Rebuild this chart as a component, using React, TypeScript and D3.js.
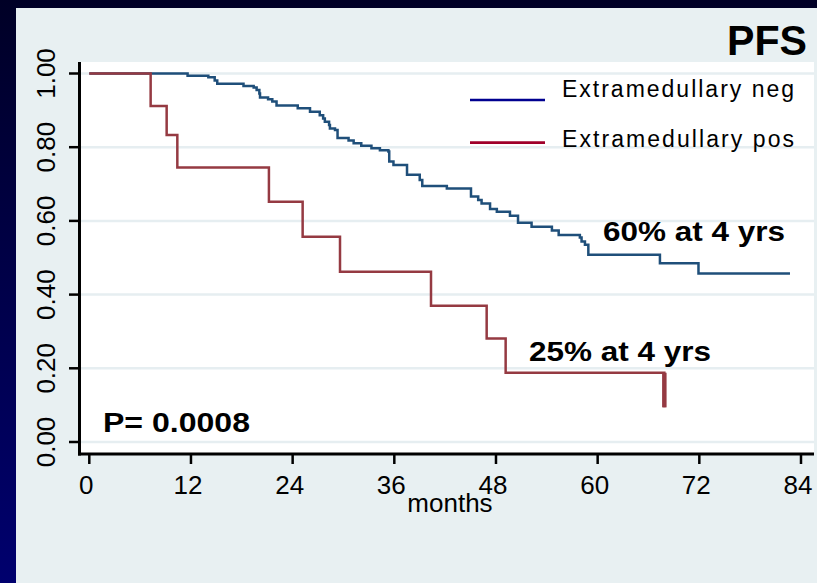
import React from "react";
import * as d3 from "d3";

// Kaplan-Meier steps (months, survival)
const negTimes = [0, 11.6, 14.05, 14.8, 15.1, 18.2, 19.4, 19.75, 20.07, 20.15, 21.1, 21.6, 22.1, 24.6, 26.05, 27.2, 27.6, 27.8, 28.3, 28.4, 29.0, 29.3, 30.6, 31.2, 32.1, 33.3, 34.3, 35.3, 35.4, 35.9, 37.5, 39.0, 39.3, 42.2, 45.05, 45.9, 46.3, 47.3, 48.1, 49.65, 50.6, 52.2, 54.6, 55.4, 57.9, 58.1, 58.5, 58.9, 67.35, 71.9, 82.7];
const negSurv = [1, 0.994, 0.99, 0.981, 0.972, 0.966, 0.962, 0.955, 0.946, 0.935, 0.93, 0.924, 0.913, 0.906, 0.896, 0.887, 0.878, 0.869, 0.86, 0.851, 0.847, 0.825, 0.818, 0.811, 0.804, 0.797, 0.792, 0.788, 0.761, 0.752, 0.725, 0.711, 0.695, 0.688, 0.666, 0.657, 0.647, 0.632, 0.625, 0.614, 0.595, 0.584, 0.574, 0.562, 0.555, 0.544, 0.535, 0.508, 0.485, 0.457, 0.457];

const posTimes = [0, 7.24, 9.13, 10.39, 21.2, 25.18, 29.59, 40.33, 46.9, 49.14, 67.87];
const posSurv = [1, 0.912, 0.833, 0.745, 0.652, 0.557, 0.462, 0.37, 0.281, 0.188, 0.094];

const xTicks = [0, 12, 24, 36, 48, 60, 72, 84];
const yTicks = [0, 0.2, 0.4, 0.6, 0.8, 1.0];

const legendLabels = ["Extramedullary neg", "Extramedullary pos"];

const W = 817;
const H = 583;
const font = "'Liberation Sans', Arial, sans-serif";

const App = () => {
  const x = d3.scaleLinear().domain([0, 84]).range([89.3, 801]);
  const y = d3.scaleLinear().domain([0, 1]).range([442, 73.5]);

  const line = d3
    .line<[number, number]>()
    .x((d) => x(d[0]))
    .y((d) => y(d[1]))
    .curve(d3.curveStepAfter);

  const negPts = negTimes.map((t, i) => [t, negSurv[i]] as [number, number]);
  const posPts = posTimes.map((t, i) => [t, posSurv[i]] as [number, number]);
  const last = posTimes.length - 1;

  return (
    <div style={{ position: "fixed", left: 0, top: 0 }}>
      <svg width={W} height={H} style={{ display: "block" }}>
        <defs>
          <linearGradient id="bg" x1="0" y1="0" x2="0" y2="1">
            <stop offset="0" stopColor="#000026" />
            <stop offset="1" stopColor="#00006e" />
          </linearGradient>
        </defs>
        <rect width={W} height={H} fill="url(#bg)" />
        <rect x={16} y={8} width={W - 16} height={H - 8} fill="#e8f0f2" />

        {/* plot area */}
        <rect x={81} y={62} width={733} height={391} fill="#ffffff" />
        {yTicks.map((t) => (
          <line key={"g" + t} x1={81} x2={814} y1={y(t)} y2={y(t)} stroke="#e6eef1" strokeWidth={2.5} />
        ))}

        {/* curves */}
        <path d={line(negPts) || ""} fill="none" stroke="#1f4f7a" strokeWidth={2.5} />
        <path d={line(posPts) || ""} fill="none" stroke="#953a42" strokeWidth={2.5} />
        <line
          x1={x(posTimes[last])}
          x2={x(posTimes[last])}
          y1={y(posSurv[last - 1])}
          y2={y(posSurv[last])}
          stroke="#953a42"
          strokeWidth={4.5}
        />

        {/* axes */}
        <line x1={79.5} x2={79.5} y1={62} y2={455.5} stroke="#000" strokeWidth={3} />
        <line x1={78} x2={814} y1={454} y2={454} stroke="#000" strokeWidth={3} />
        {yTicks.map((t) => (
          <g key={"y" + t}>
            <line x1={69} x2={79} y1={y(t)} y2={y(t)} stroke="#000" strokeWidth={2.5} />
            <text
              transform={`translate(55,${y(t)}) rotate(-90)`}
              textAnchor="middle"
              fontFamily={font}
              fontSize={26}
              fill="#000"
            >
              {d3.format(".2f")(t)}
            </text>
          </g>
        ))}
        {xTicks.map((t) => (
          <g key={"x" + t}>
            <line x1={x(t)} x2={x(t)} y1={455} y2={464} stroke="#000" strokeWidth={2.5} />
            <text x={x(t) - 3} y={494} textAnchor="middle" fontFamily={font} fontSize={26} fill="#000">
              {t}
            </text>
          </g>
        ))}
        <text x={450} y={512} textAnchor="middle" fontFamily={font} fontSize={26} fill="#000">
          months
        </text>

        {/* title */}
        <text x={807} y={55} textAnchor="end" fontFamily={font} fontSize={43} fontWeight="bold" textLength={80} lengthAdjust="spacingAndGlyphs" fill="#000">
          PFS
        </text>

        {/* legend */}
        <line x1={470} x2={545} y1={100} y2={100} stroke="#000090" strokeWidth={2.7} />
        <line x1={470} x2={545} y1={142.7} y2={142.7} stroke="#a0002a" strokeWidth={2.7} />
        <text x={562} y={97} fontFamily={font} fontSize={23} textLength={232} fill="#000">
          {legendLabels[0]}
        </text>
        <text x={562} y={147} fontFamily={font} fontSize={23} textLength={232} fill="#000">
          {legendLabels[1]}
        </text>

        {/* annotations */}
        <text x={603} y={241} fontFamily={font} fontSize={28} fontWeight="bold" textLength={182} lengthAdjust="spacingAndGlyphs" fill="#000">
          60% at 4 yrs
        </text>
        <text x={529} y={361} fontFamily={font} fontSize={28} fontWeight="bold" textLength={182} lengthAdjust="spacingAndGlyphs" fill="#000">
          25% at 4 yrs
        </text>
        <text x={103} y={432} fontFamily={font} fontSize={27} fontWeight="bold" textLength={147} lengthAdjust="spacingAndGlyphs" fill="#000">
          P= 0.0008
        </text>
      </svg>
    </div>
  );
};

export default App;
